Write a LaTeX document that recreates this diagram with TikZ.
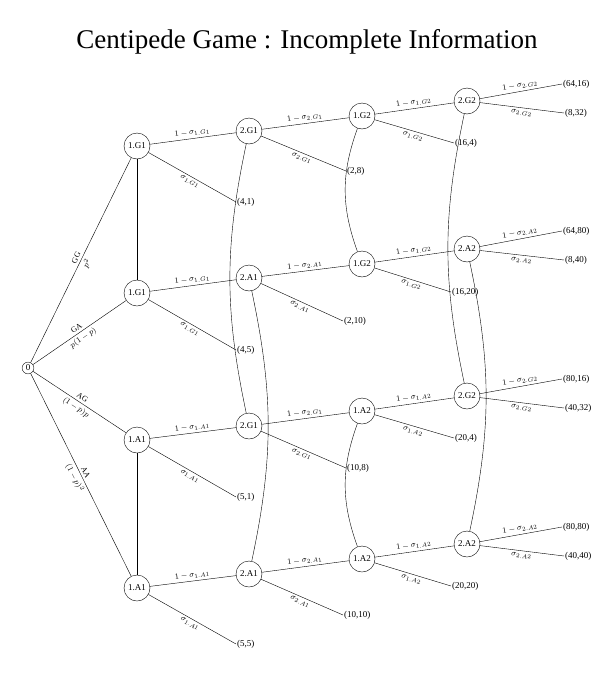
\documentclass[tikz,border=0pt]{standalone}
\usepackage{fontspec}
\setmainfont{Liberation Serif}
\usetikzlibrary{positioning}
\tikzset{
  dec/.style={draw,circle,minimum size=26pt,inner sep=0pt,font=\small},
  pay/.style={inner sep=1pt,anchor=west,font=\small},
  act/.style={sloped,font=\footnotesize,inner sep=2.5pt},
  infoset/.style={draw},
}
\begin{document}
\begin{tikzpicture}[x=1pt,y=-1pt]
\useasboundingbox (0,0) rectangle (615,675);
\node at (307,42) {\fontsize{27}{30}\selectfont Centipede Game : Incomplete Information};

% root
\node[draw,circle,inner sep=1.5pt,font=\small] (r) at (28,368) {0};

% first row
\node[dec] (a1) at (137,146) {1.G1};
\node[dec] (b1) at (249,131) {2.G1};
\node[dec] (c1) at (362,116) {1.G2};
\node[dec] (d1) at (467,101) {2.G2};
\node[pay] (ta1) at (236,202) {(4,1)};
\node[pay] (tb1) at (346,171) {(2,8)};
\node[pay] (tc1) at (454,143) {(16,4)};
\node[pay] (td1) at (562,84) {(64,16)};
\node[pay] (te1) at (564,113) {(8,32)};

% second row
\node[dec] (a2) at (137,293) {1.G1};
\node[dec] (b2) at (249,278) {2.A1};
\node[dec] (c2) at (362,264) {1.G2};
\node[dec] (d2) at (467,249) {2.A2};
\node[pay] (ta2) at (236,350) {(4,5)};
\node[pay] (tb2) at (343,321) {(2,10)};
\node[pay] (tc2) at (451,292) {(16,20)};
\node[pay] (td2) at (562,231) {(64,80)};
\node[pay] (te2) at (564,260) {(8,40)};

% third row
\node[dec] (a3) at (137,440) {1.A1};
\node[dec] (b3) at (249,426) {2.G1};
\node[dec] (c3) at (362,411) {1.A2};
\node[dec] (d3) at (467,396) {2.G2};
\node[pay] (ta3) at (236,497) {(5,1)};
\node[pay] (tb3) at (346,468) {(10,8)};
\node[pay] (tc3) at (454,438) {(20,4)};
\node[pay] (td3) at (562,379) {(80,16)};
\node[pay] (te3) at (564,408) {(40,32)};

% fourth row
\node[dec] (a4) at (137,588) {1.A1};
\node[dec] (b4) at (249,574) {2.A1};
\node[dec] (c4) at (362,559) {1.A2};
\node[dec] (d4) at (467,544) {2.A2};
\node[pay] (ta4) at (236,644) {(5,5)};
\node[pay] (tb4) at (343,615) {(10,10)};
\node[pay] (tc4) at (451,586) {(20,20)};
\node[pay] (td4) at (562,527) {(80,80)};
\node[pay] (te4) at (564,556) {(40,40)};

% nature's move
\draw (r) -- node[act,above]{GG} node[act,below]{$p^2$} (a1);
\draw (r) -- node[act,above]{GA} node[act,below]{$p(1-p)$} (a2);
\draw (r) -- node[act,above]{AG} node[act,below]{$(1-p)p$} (a3);
\draw (r) -- node[act,above]{AA} node[act,below]{$(1-p)^2$} (a4);

% rows
\foreach \i/\x/\y/\z/\w in {1/1.G1/2.G1/1.G2/2.G2, 2/1.G1/2.A1/1.G2/2.A2, 3/1.A1/2.G1/1.A2/2.G2, 4/1.A1/2.A1/1.A2/2.A2} {
  \draw (a\i) -- node[act,above]{$1-\sigma_{\x}$} (b\i);
  \draw (a\i) -- node[act,below]{$\sigma_{\x}$} (ta\i.west);
  \draw (b\i) -- node[act,above]{$1-\sigma_{\y}$} (c\i);
  \draw (b\i) -- node[act,below]{$\sigma_{\y}$} (tb\i.west);
  \draw (c\i) -- node[act,above]{$1-\sigma_{\z}$} (d\i);
  \draw (c\i) -- node[act,below]{$\sigma_{\z}$} (tc\i.west);
  \draw (d\i) -- node[act,above]{$1-\sigma_{\w}$} (td\i.west);
  \draw (d\i) -- node[act,below]{$\sigma_{\w}$} (te\i.west);
}

% information sets
\draw[infoset] (a1) -- (a2);
\draw[infoset] (a3) -- (a4);
\draw[infoset] (b1) to[bend right=12] (b3);
\draw[infoset] (b2) to[bend left=12] (b4);
\draw[infoset] (c1) to[bend right=20] (c2);
\draw[infoset] (c3) to[bend right=20] (c4);
\draw[infoset] (d1) to[bend right=12] (d3);
\draw[infoset] (d2) to[bend left=12] (d4);
\end{tikzpicture}
\end{document}
